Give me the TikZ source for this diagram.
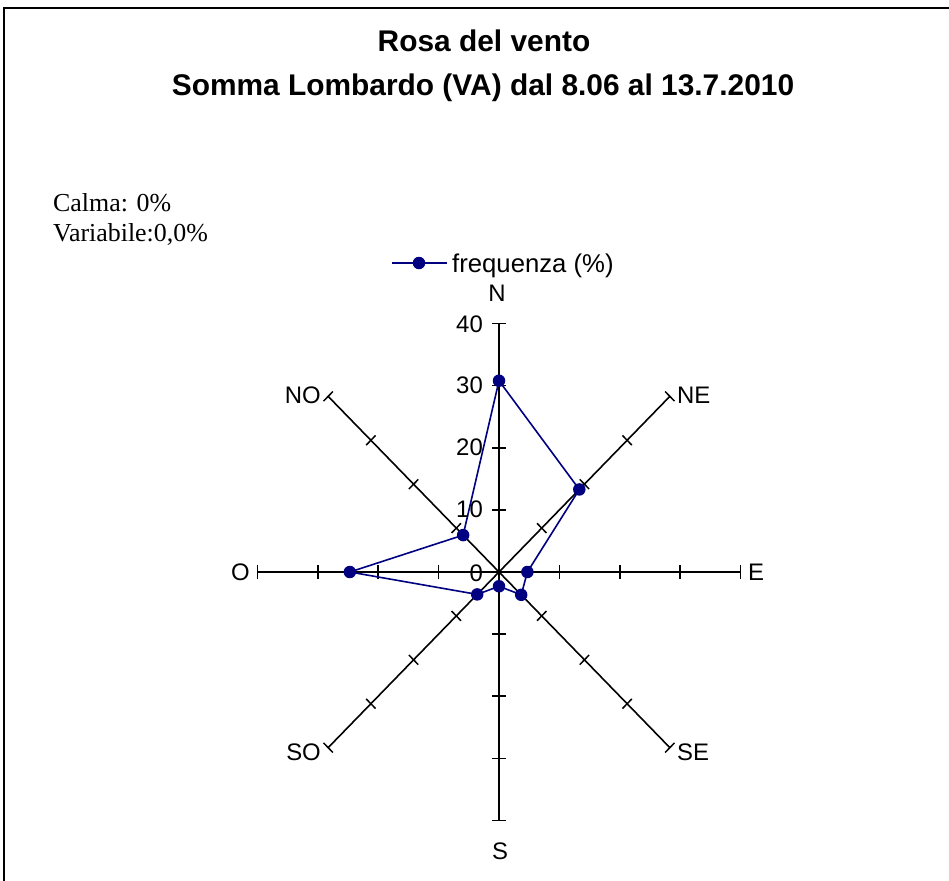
\documentclass[tikz,border=0pt]{standalone}
\usepackage{fontspec}
\setmainfont{Liberation Serif}
\newfontfamily\arial{Liberation Sans}
\usetikzlibrary{calc}
\definecolor{navyc}{RGB}{0,0,128}
\begin{document}
\begin{tikzpicture}[x=1bp,y=-1bp,
  axisline/.style={line width=1.6bp,black},
  tickmark/.style={line width=1.5bp,black},
  series/.style={line width=1.6bp,navyc,line join=round},
  dot/.style={circle,fill=navyc,inner sep=0pt,minimum size=12.5bp},
  dirlabel/.style={font=\arial\fontsize{24}{28}\selectfont,inner sep=0pt},
  ticklabel/.style={font=\arial\fontsize{24}{28}\selectfont,inner sep=0pt,anchor=east},
  titletext/.style={font=\arial\bfseries\fontsize{30}{36}\selectfont,inner sep=0pt,anchor=base},
  notetext/.style={font=\fontsize{26}{30}\selectfont,inner sep=0pt,anchor=base west}]
\useasboundingbox (0,0) rectangle (949,881);
\draw[line width=2bp] (4,881) -- (4,8) -- (949,8);
\node[titletext] (t1) at (484,51.7) {Rosa del vento};
\node[titletext] (t2) at (483,95) {Somma Lombardo (VA) dal 8.06 al 13.7.2010};
\node[notetext] (calma) at (53,211.7) {Calma: 0\%};
\node[notetext] (var) at (53,241.7) {Variabile:0,0\%};
% legend
\coordinate (l1) at (392,263);
\coordinate (l2) at (447,263);
\draw[series] (l1) -- (l2);
\node[dot] (ldot) at (419,263) {};
\node[dirlabel,anchor=base west,font=\arial\fontsize{25.8}{30}\selectfont] (ltext) at (452,272) {frequenza (\%)};
% rose
\begin{scope}[shift={(499,572)}, x={(6.04bp,0)}, y={(0,6.21bp)}]
  \coordinate (c) at (0,0);
  \foreach \a/\n in {90/N,45/NE,0/E,-45/SE,-90/S,-135/SO,180/O,135/NO} {
    \coordinate (end\n) at (\a:40);
    \draw[axisline] (c) -- (end\n);
    \foreach \k in {10,20,30,40}
      \draw[tickmark] ($(\a:\k)+(\a+90:1.1)$) -- ($(\a:\k)+(\a-90:1.1)$);
  }
  \coordinate (pN) at (90:30.8);
  \coordinate (pNE) at (45:18.8);
  \coordinate (pE) at (0:4.7);
  \coordinate (pSE) at (-45:5.2);
  \coordinate (pS) at (-90:2.3);
  \coordinate (pSO) at (-135:5.1);
  \coordinate (pO) at (180:24.7);
  \coordinate (pNO) at (135:8.4);
  \draw[series] (pN) -- (pNE) -- (pE) -- (pSE) -- (pS) -- (pSO) -- (pO) -- (pNO) -- cycle;
  \foreach \p in {N,NE,E,SE,S,SO,O,NO}
    \node[dot] (d\p) at (p\p) {};
\end{scope}
% direction labels
\node[dirlabel] (lN) at (497,293) {N};
\node[dirlabel,anchor=west] (lNE) at (677,395) {NE};
\node[dirlabel,anchor=west] (lE) at (748,572) {E};
\node[dirlabel,anchor=west] (lSE) at (677,752) {SE};
\node[dirlabel] (lS) at (500,851) {S};
\node[dirlabel,anchor=east] (lSO) at (321,752) {SO};
\node[dirlabel,anchor=east] (lO) at (250,572) {O};
\node[dirlabel,anchor=east] (lNO) at (321,395) {NO};
% tick labels
\node[ticklabel] (v40) at (483,324) {40};
\node[ticklabel] (v30) at (483,385) {30};
\node[ticklabel] (v20) at (483,447) {20};
\node[ticklabel] (v10) at (483,509) {10};
\node[ticklabel] (v0) at (483,573) {0};
\end{tikzpicture}
\end{document}
